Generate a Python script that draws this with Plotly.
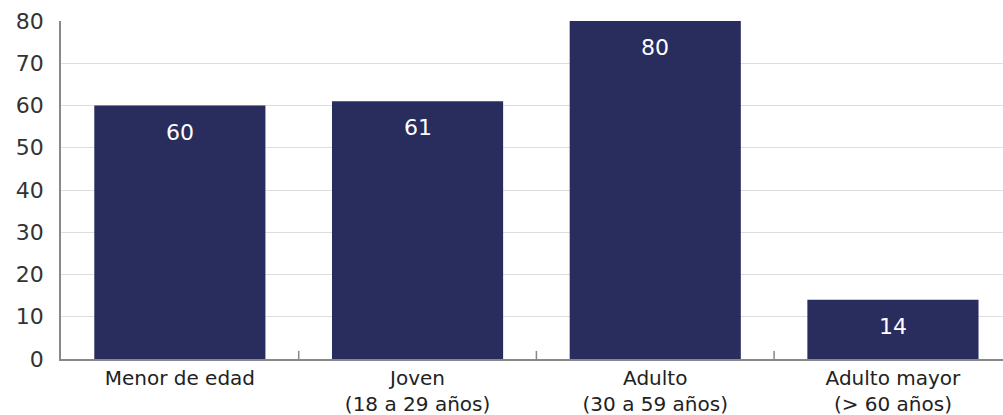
import plotly.graph_objects as go

categories = ["Menor de edad", "Joven<br>(18 a 29 años)", "Adulto<br>(30 a 59 años)", "Adulto mayor<br>(> 60 años)"]
values = [60, 61, 80, 14]
y_ticks = [0, 10, 20, 30, 40, 50, 60, 70, 80]

BAR = "#282D5E"
FONT = "DejaVu Sans"

fig = go.Figure()
fig.add_trace(go.Bar(
    x=list(range(len(categories))), y=values,
    marker=dict(color=BAR, line=dict(width=0)),
    width=0.72, hoverinfo="skip",
))
for i, v in enumerate(values):
    fig.add_annotation(x=i, y=v, text=str(v), showarrow=False, yanchor="top",
                       yshift=-12, font=dict(family=FONT, size=22, color="white"))

fig.update_layout(
    width=1003, height=415,
    margin=dict(l=61, r=0, t=21, b=56, autoexpand=False),
    plot_bgcolor="white", paper_bgcolor="white",
    showlegend=False,
    font=dict(family=FONT, size=20, color="#333333"),
)
fig.update_xaxes(
    range=[-0.5, 3.463], automargin=False,
    tickmode="array", tickvals=list(range(len(categories))), ticktext=categories,
    showgrid=False, showline=True, linecolor="#888888", linewidth=1.5,
    ticks="", tickfont=dict(family=FONT, size=20, color="#222222"),
)
fig.update_yaxes(
    range=[0, 80], tickvals=y_ticks, automargin=False,
    showgrid=True, gridcolor="#dddddd", gridwidth=1,
    showline=True, linecolor="#888888", linewidth=1.5,
    zeroline=False, ticks="", ticklabelstandoff=11,
    tickfont=dict(family=FONT, size=22, color="#333333"),
)
# boundary tick marks between categories
for b in [0.5, 1.5, 2.5]:
    fig.add_shape(type="line", xref="x", yref="paper", x0=b, x1=b, y0=0, y1=0.024,
                  line=dict(color="#888888", width=1.5))

fig.write_html("out.html", config={"displayModeBar": False},
               post_script="document.body.style.margin='0';document.body.style.overflow='hidden';")
